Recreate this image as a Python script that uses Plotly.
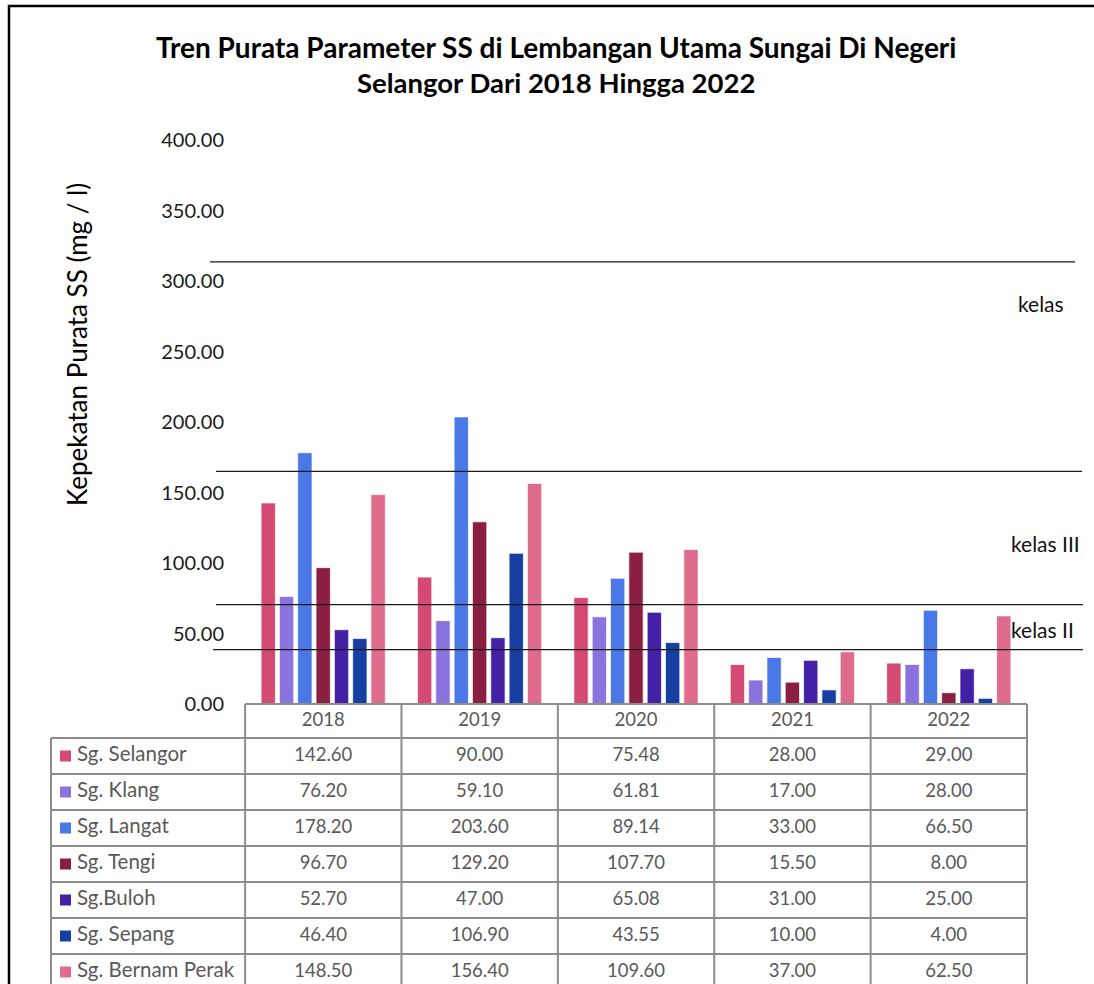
import plotly.graph_objects as go

W, H = 1094, 984

years = ["2018", "2019", "2020", "2021", "2022"]
rivers = ["Sg. Selangor", "Sg. Klang", "Sg. Langat", "Sg. Tengi",
          "Sg.Buloh", "Sg. Sepang", "Sg. Bernam Perak"]
selangor = [142.60, 90.00, 75.48, 28.00, 29.00]
klang = [76.20, 59.10, 61.81, 17.00, 28.00]
langat = [178.20, 203.60, 89.14, 33.00, 66.50]
tengi = [96.70, 129.20, 107.70, 15.50, 8.00]
buloh = [52.70, 47.00, 65.08, 31.00, 25.00]
sepang = [46.40, 106.90, 43.55, 10.00, 4.00]
bernam = [148.50, 156.40, 109.60, 37.00, 62.50]
series = [selangor, klang, langat, tengi, buloh, sepang, bernam]
colors = ["#d44a72", "#8b73df", "#4a78e6", "#8b1f41",
          "#4321a6", "#173ea1", "#df6c8d"]

# class boundary lines as drawn on the chart (value units)
kelas_lines = [313.5, 165.0, 70.5, 38.5]
kelas_x = [(210, 1075), (216, 1082), (216, 1083), (213, 1083)]
kelas_labels = ["kelas", "kelas III", "kelas II"]
kelas_label_y = [284.0, 114.0, 53.0]
kelas_label_x = [1016, 1009, 1009]

FONT = "Lato"
GREY = "#595959"
BORDER = "#8c8c8c"

# table geometry (pixels of the reference)
COL_W = 156.3
LABEL_W = 194 / COL_W
ROW_H = 36.0
HEAD_H = 34 / ROW_H


def px_x(p):
    return p / W


def px_y(p):
    return 1 - p / H


fig = go.Figure()

# ---- bars ----
for name, vals, c in zip(rivers, series, colors):
    fig.add_trace(go.Bar(
        x=years, y=vals, name=name, marker_color=c,
        marker_line=dict(color="rgba(255,255,255,0.7)", width=1),
        showlegend=False, xaxis="x", yaxis="y",
    ))

# ---- data table drawn on its own axes (x2: column index, y2: row index) ----
n_rows = len(rivers)
row_mid = [i + 0.5 for i in range(n_rows)]
tbl_left = -LABEL_W - 0.5
tbl_right = len(years) - 0.5

fig.add_trace(go.Scatter(
    x=[tbl_left + 14.5 / COL_W] * n_rows, y=row_mid, mode="markers",
    marker=dict(symbol="square", size=11, color=colors),
    showlegend=False, hoverinfo="skip", xaxis="x2", yaxis="y2",
))
fig.add_trace(go.Scatter(
    x=[tbl_left + 26 / COL_W] * n_rows, y=row_mid,
    mode="text", text=rivers, textposition="middle right",
    textfont=dict(family=FONT, size=20.5, color=GREY),
    showlegend=False, hoverinfo="skip", xaxis="x2", yaxis="y2",
))
for j, yr in enumerate(years):
    fig.add_trace(go.Scatter(
        x=[j] * (n_rows + 1), y=[-HEAD_H / 2] + row_mid,
        mode="text", text=[yr] + [f"{s[j]:.2f}" for s in series],
        textfont=dict(family=FONT, size=18.5, color=GREY),
        showlegend=False, hoverinfo="skip", xaxis="x2", yaxis="y2",
    ))

line_style = dict(color=BORDER, width=2)
for k in range(n_rows + 1):
    fig.add_shape(type="line", xref="x2", yref="y2", x0=tbl_left, x1=tbl_right,
                  y0=k, y1=k, line=line_style)
fig.add_shape(type="line", xref="x2", yref="y2", x0=-0.5, x1=tbl_right,
              y0=-HEAD_H, y1=-HEAD_H, line=line_style)
fig.add_shape(type="line", xref="x2", yref="y2", x0=tbl_left, x1=tbl_left,
              y0=0, y1=n_rows + 1, line=line_style)
for j in range(len(years) + 1):
    fig.add_shape(type="line", xref="x2", yref="y2", x0=j - 0.5, x1=j - 0.5,
                  y0=-HEAD_H, y1=n_rows + 1, line=line_style)

# ---- class lines and labels ----
for yv, (x0, x1) in zip(kelas_lines, kelas_x):
    fig.add_shape(type="line", xref="paper", yref="y",
                  x0=px_x(x0), x1=px_x(x1), y0=yv, y1=yv,
                  line=dict(color="#1a1a1a", width=1.3))

for t, yv, xv in zip(kelas_labels, kelas_label_y, kelas_label_x):
    fig.add_annotation(text=t, xref="paper", yref="y", x=px_x(xv), y=yv,
                       xanchor="left", yanchor="middle", showarrow=False,
                       font=dict(family=FONT, size=21, color="#111"))

# ---- title (two lines) and y axis title ----
fig.add_annotation(text="<b>Tren Purata Parameter SS di Lembangan Utama Sungai Di Negeri</b>",
                   xref="paper", yref="paper", x=px_x(556), y=px_y(47),
                   xanchor="center", yanchor="middle", showarrow=False,
                   font=dict(family=FONT, size=28, color="#000"))
fig.add_annotation(text="<b>Selangor Dari 2018 Hingga 2022</b>",
                   xref="paper", yref="paper", x=px_x(556), y=px_y(82),
                   xanchor="center", yanchor="middle", showarrow=False,
                   font=dict(family=FONT, size=27.5, color="#000"))
fig.add_annotation(text="Kepekatan Purata SS (mg / l)", textangle=-90,
                   xref="paper", yref="paper", x=px_x(77), y=px_y(345),
                   xanchor="center", yanchor="middle", showarrow=False,
                   font=dict(family=FONT, size=26, color="#000"))

# ---- outer frame ----
fig.add_shape(type="rect", xref="paper", yref="paper",
              x0=px_x(9), x1=1.01, y0=-0.05, y1=px_y(6),
              line=dict(color="#000", width=2.5))

pad = 6
fig.update_layout(
    width=W, height=H,
    margin=dict(l=0, r=0, t=0, b=0, autoexpand=False),
    paper_bgcolor="white", plot_bgcolor="rgba(0,0,0,0)",
    barmode="group", bargap=0.18, bargroupgap=0.22,
    xaxis=dict(domain=[px_x(245), px_x(1027)], showticklabels=False,
               showgrid=False, zeroline=False, showline=False, ticks="",
               automargin=False, anchor="y"),
    yaxis=dict(domain=[px_y(704), px_y(140)], range=[0, 400], dtick=50,
               tickformat=".2f", showgrid=False, zeroline=False,
               showline=False, ticks="", ticklabelstandoff=20, automargin=False,
               tickfont=dict(family=FONT, size=20, color="#1a1a1a"), anchor="x"),
    xaxis2=dict(domain=[px_x(51 - pad), px_x(1027 + pad)],
                range=[tbl_left - pad / COL_W, tbl_right + pad / COL_W],
                visible=False, anchor="y2", automargin=False),
    yaxis2=dict(domain=[0, px_y(704 - pad)],
                range=[(H - 738) / ROW_H, -HEAD_H - pad / ROW_H],
                visible=False, anchor="x2", automargin=False),
)

fig.write_html("out.html", config={"displayModeBar": False},
               post_script="document.body.style.margin='0';")
